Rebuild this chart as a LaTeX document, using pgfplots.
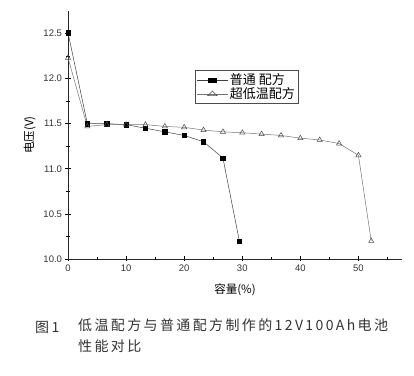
\documentclass[border=0pt]{standalone}
\usepackage{pgfplots}
\pgfplotsset{compat=1.18}
\usepackage{fontspec}
\setmainfont{Liberation Sans}
\newfontfamily\cjk{Noto Sans CJK SC}
\newfontfamily\cjkcap[LetterSpace=17]{Noto Sans CJK SC}
\begin{document}
\begin{tikzpicture}
\useasboundingbox (0,0) rectangle (414bp,376bp);
\begin{axis}[
  at={(68bp,117bp)}, anchor=south west,
  scale only axis, width=334bp, height=248bp,
  xmin=0, xmax=57.5, ymin=10, ymax=12.75,
  axis lines*=left,
  axis line style={line width=0.9pt, draw=black!85},
  xtick={0,10,20,30,40,50}, minor xtick={5,15,25,35,45,55},
  ytick={10,10.5,11,11.5,12,12.5}, minor ytick={10.25,10.75,11.25,11.75,12.25},
  yticklabel style={/pgf/number format/fixed, /pgf/number format/fixed zerofill, /pgf/number format/precision=1},
  tick style={line width=0.8pt, black},
  major tick length=5bp, minor tick length=3bp,
  tick align=center,
  tick label style={font=\fontsize{9.5bp}{11bp}\selectfont, text=black!80},
  /pgf/number format/assume math mode=true,
  xlabel={\cjk\fontsize{11.5bp}{13bp}\selectfont 容量(\%)},
  ylabel={\cjk\fontsize{11.5bp}{13bp}\selectfont 电压(V)},
  xlabel style={yshift=-5bp},
  ylabel style={yshift=1bp},
  legend style={at={(0.38,0.762)}, anchor=north west, draw=black!70, line width=0.8pt,
    font=\cjk\fontsize{13bp}{14bp}\selectfont, inner sep=1.5bp, row sep=-2.5bp},
  legend cell align=left,
  legend image post style={xscale=1.8},
]
\addplot[black!75, line width=0.5pt, mark=square*, mark size=2.2bp, mark options={fill=black, draw=black}]
 coordinates {(0,12.51) (3.33,11.50) (6.67,11.50) (10,11.49) (13.33,11.45) (16.67,11.41) (20,11.37) (23.33,11.30) (26.67,11.12) (29.5,10.2)};
\addlegendentry{普通\ 配方}
\addplot[black!55, line width=0.5pt, mark=triangle, mark size=3bp, mark options={draw=black!70, fill=white}]
 coordinates {(0,12.23) (3.33,11.47) (6.67,11.49) (10,11.49) (13.33,11.49) (16.67,11.47) (20,11.46) (23.33,11.43) (26.67,11.41) (30,11.40) (33.33,11.385) (36.67,11.37) (40,11.34) (43.33,11.32) (46.67,11.28) (50,11.15) (52.2,10.2)};
\addlegendentry{超低温配方}
\end{axis}
\node[anchor=west, font=\cjkcap\fontsize{14bp}{15bp}\selectfont, text=black!80, inner sep=0pt] at (35bp,49bp) {图1};
\node[anchor=north west, align=left, font=\cjkcap\fontsize{14bp}{21bp}\selectfont, text=black!80, inner sep=0pt] at (78bp,58bp) {低温配方与普通配方制作的12V100Ah电池\\性能对比};
\end{tikzpicture}
\end{document}
